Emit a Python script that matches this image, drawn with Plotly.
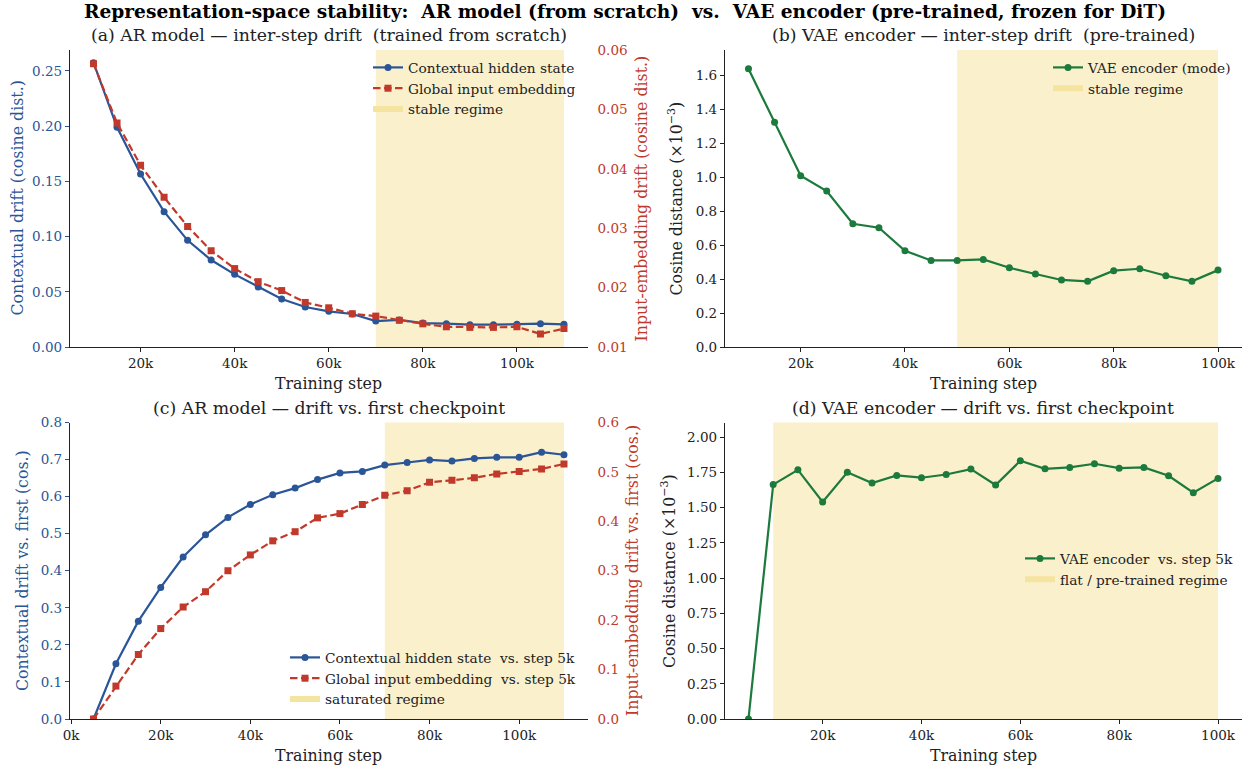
import plotly.graph_objects as go

# ---------------- data ----------------
steps_a = [10000, 15000, 20000, 25000, 30000, 35000, 40000, 45000, 50000, 55000, 60000,
           65000, 70000, 75000, 80000, 85000, 90000, 95000, 100000, 105000, 110000]
ctx_interstep = [0.2575, 0.199, 0.1567, 0.1226, 0.0966, 0.0788, 0.0658, 0.0543, 0.0435, 0.0362,
                 0.0323, 0.0299, 0.0235, 0.0245, 0.0217, 0.0211, 0.0202, 0.0202, 0.0205, 0.0211, 0.0205]
emb_interstep = [0.0577, 0.0477, 0.0406, 0.0352, 0.0303, 0.0262, 0.0232, 0.0210, 0.0195, 0.0175,
                 0.0166, 0.0156, 0.0152, 0.0145, 0.0139, 0.0134, 0.0133, 0.0133, 0.0134, 0.0122, 0.0131]

steps_b = [10000, 15000, 20000, 25000, 30000, 35000, 40000, 45000, 50000, 55000,
           60000, 65000, 70000, 75000, 80000, 85000, 90000, 95000, 100000]
vae_interstep = [1.639, 1.325, 1.009, 0.919, 0.726, 0.703, 0.567, 0.510, 0.510, 0.516,
                 0.467, 0.430, 0.395, 0.387, 0.450, 0.461, 0.420, 0.387, 0.453]

steps_c = [5000, 10000, 15000, 20000, 25000, 30000, 35000, 40000, 45000, 50000, 55000,
           60000, 65000, 70000, 75000, 80000, 85000, 90000, 95000, 100000, 105000, 110000]
ctx_vs_first = [0.0, 0.149, 0.264, 0.355, 0.437, 0.497, 0.544, 0.579, 0.605, 0.623, 0.646,
                0.664, 0.668, 0.685, 0.692, 0.699, 0.696, 0.703, 0.706, 0.706, 0.720, 0.713]
emb_vs_first = [0.0, 0.0666, 0.1305, 0.183, 0.2266, 0.2576, 0.300, 0.332, 0.3605, 0.379, 0.407,
                0.4156, 0.434, 0.4526, 0.462, 0.479, 0.483, 0.488, 0.496, 0.501, 0.506, 0.516]

steps_d = [5000, 10000, 15000, 20000, 25000, 30000, 35000, 40000, 45000, 50000,
           55000, 60000, 65000, 70000, 75000, 80000, 85000, 90000, 95000, 100000]
vae_vs_first = [0.0, 1.664, 1.769, 1.541, 1.751, 1.675, 1.729, 1.713, 1.736, 1.774,
                1.661, 1.833, 1.776, 1.786, 1.812, 1.781, 1.786, 1.727, 1.607, 1.708]

# shaded regimes (start, end) per panel
regime_a = (70000, 110000)
regime_b = (50000, 100000)
regime_c = (70000, 110000)
regime_d = (10000, 100000)

step_ticks = [0, 20000, 40000, 60000, 80000, 100000]
step_ticktext = ["0k", "20k", "40k", "60k", "80k", "100k"]

# ---------------- styling ----------------
FONT = "DejaVu Serif"
BLUE = "#2a5597"
RED = "#c0392b"
GREEN = "#1b7a3c"
SHADE = "#f7e8b0"
SHADE_KEY = "#f5e3a0"
INK = "#222222"
DASH = "7.5px,3.5px"

W, H = 1251, 769


def px_x(p):
    return p / W


def px_y(p):
    return 1 - p / H


left_dom = [px_x(70), px_x(587.5)]
right_dom = [px_x(725), px_x(1241.5)]
top_dom = [px_y(347), px_y(50)]
bot_dom = [px_y(719), px_y(422.5)]

fig = go.Figure()


def line_trace(x, y, name, color, symbol, dash, xa, ya, lg):
    return go.Scatter(x=x, y=y, name=name, mode="lines+markers",
                      line=dict(color=color, width=2.2, dash=dash),
                      marker=dict(symbol=symbol, size=7, color=color),
                      xaxis=xa, yaxis=ya, legend=lg)


def regime_key(name, xa, ya, lg):
    # legend entry for a shaded regime
    return go.Scatter(x=[None], y=[None], name=name, mode="none", fill="toself",
                      fillcolor=SHADE_KEY, xaxis=xa, yaxis=ya, legend=lg)


# (a) AR model inter-step drift
fig.add_trace(line_trace(steps_a, ctx_interstep, "Contextual hidden state", BLUE, "circle", "solid", "x", "y", "legend"))
fig.add_trace(line_trace(steps_a, emb_interstep, "Global input embedding", RED, "square", DASH, "x", "y5", "legend"))
fig.add_trace(regime_key("stable regime", "x", "y", "legend"))

# (b) VAE encoder inter-step drift
fig.add_trace(line_trace(steps_b, vae_interstep, "VAE encoder (mode)", GREEN, "circle", "solid", "x2", "y2", "legend2"))
fig.add_trace(regime_key("stable regime", "x2", "y2", "legend2"))

# (c) AR model drift vs first checkpoint
fig.add_trace(line_trace(steps_c, ctx_vs_first, "Contextual hidden state  vs. step 5k", BLUE, "circle", "solid", "x3", "y3", "legend3"))
fig.add_trace(line_trace(steps_c, emb_vs_first, "Global input embedding  vs. step 5k", RED, "square", DASH, "x3", "y6", "legend3"))
fig.add_trace(regime_key("saturated regime", "x3", "y3", "legend3"))

# (d) VAE encoder drift vs first checkpoint
fig.add_trace(line_trace(steps_d, vae_vs_first, "VAE encoder  vs. step 5k", GREEN, "circle", "solid", "x4", "y4", "legend4"))
fig.add_trace(regime_key("flat / pre-trained regime", "x4", "y4", "legend4"))

# shaded regimes
for (x0, x1), xr, yr in [
    (regime_a, "x", "y domain"),
    (regime_b, "x2", "y2 domain"),
    (regime_c, "x3", "y3 domain"),
    (regime_d, "x4", "y4 domain"),
]:
    fig.add_shape(type="rect", xref=xr, yref=yr, x0=x0, x1=x1, y0=0, y1=1,
                  fillcolor=SHADE, opacity=0.65, line=dict(width=0), layer="below")

TICK_SIZE = 13.5


def xax(domain, anchor, rng):
    return dict(domain=domain, anchor=anchor, range=rng, showgrid=False, zeroline=False,
                automargin=False,
                showline=True, linecolor=INK, linewidth=1.3, ticks="outside", ticklen=4,
                tickcolor=INK, tickvals=step_ticks, ticktext=step_ticktext,
                tickfont=dict(family=FONT, size=TICK_SIZE, color=INK))


def yax(domain, anchor, rng, dtick, fmt, color=INK, side="left", overlaying=None):
    d = dict(domain=domain, anchor=anchor, range=rng, showgrid=False, zeroline=False,
             automargin=False, tick0=0, dtick=dtick, tickformat=fmt, side=side,
             tickfont=dict(family=FONT, size=TICK_SIZE, color=color))
    if overlaying:
        # twin axis: labels only, no spine or tick marks
        d.update(overlaying=overlaying, showline=False, ticks="", ticklabelstandoff=9)
    else:
        d.update(showline=True, linecolor=INK, linewidth=1.3, ticks="outside", ticklen=4,
                 tickcolor=color)
    return d


fig.update_layout(
    width=W, height=H,
    margin=dict(l=0, r=0, t=0, b=0, autoexpand=False),
    paper_bgcolor="white", plot_bgcolor="rgba(0,0,0,0)",
    font=dict(family=FONT, size=13, color=INK),
    xaxis=xax(left_dom, "y", [5000, 115000]),
    yaxis=yax(top_dom, "x", [0, 0.269], 0.05, ".2f", color=BLUE),
    yaxis5=yax(top_dom, "x", [0.01, 0.06], 0.01, ".2f", color=RED, side="right", overlaying="y"),
    xaxis2=xax(right_dom, "y2", [5500, 104500]),
    yaxis2=yax(top_dom, "x2", [0, 1.75], 0.2, ".1f"),
    xaxis3=xax(left_dom, "y3", [-250, 115250]),
    yaxis3=yax(bot_dom, "x3", [0, 0.8], 0.1, ".1f", color=BLUE),
    yaxis6=yax(bot_dom, "x3", [0, 0.6], 0.1, ".1f", color=RED, side="right", overlaying="y3"),
    xaxis4=xax(right_dom, "y4", [250, 104750]),
    yaxis4=yax(bot_dom, "x4", [0, 2.105], 0.25, ".2f"),
)

legend_common = dict(bgcolor="rgba(0,0,0,0)", borderwidth=0, xanchor="left", yanchor="top",
                     font=dict(family=FONT, size=13.7, color=INK), itemwidth=30,
                     tracegroupgap=0)
fig.update_layout(
    legend=dict(x=px_x(368), y=px_y(52), **legend_common),
    legend2=dict(x=px_x(1048), y=px_y(52), **legend_common),
    legend3=dict(x=px_x(285), y=px_y(642), **legend_common),
    legend4=dict(x=px_x(1020), y=px_y(543), **legend_common),
)

# titles and axis labels
ann = []
ann.append(dict(text="<b>Representation-space stability:  AR model (from scratch)  vs.  VAE encoder (pre-trained, frozen for DiT)</b>",
                x=px_x(625), y=px_y(12), font=dict(family=FONT, size=18.6, color="black")))
for txt, cx, cy in [
    ("(a) AR model — inter-step drift  (trained from scratch)", 328.75, 35),
    ("(b) VAE encoder — inter-step drift  (pre-trained)", 983.25, 35),
    ("(c) AR model — drift vs. first checkpoint", 328.75, 408),
    ("(d) VAE encoder — drift vs. first checkpoint", 983.25, 408),
]:
    ann.append(dict(text=txt, x=px_x(cx), y=px_y(cy), font=dict(family=FONT, size=17.3, color=INK)))
for cx, cy in [(328.75, 383), (983.25, 383), (328.75, 755), (983.25, 755)]:
    ann.append(dict(text="Training step", x=px_x(cx), y=px_y(cy),
                    font=dict(family=FONT, size=15.8, color=INK)))
for txt, cx, cy, col in [
    ("Contextual drift (cosine dist.)", 17, 198.5, BLUE),
    ("Input-embedding drift (cosine dist.)", 641, 198.5, RED),
    ("Cosine distance (×10<sup>−3</sup>)", 676, 198.5, INK),
    ("Contextual drift vs. first (cos.)", 22, 571, BLUE),
    ("Input-embedding drift vs. first (cos.)", 632, 571, RED),
    ("Cosine distance (×10<sup>−3</sup>)", 668, 571, INK),
]:
    ann.append(dict(text=txt, x=px_x(cx), y=px_y(cy), textangle=-90,
                    font=dict(family=FONT, size=15.8, color=col)))

for a in ann:
    a.update(xref="paper", yref="paper", xanchor="center", yanchor="middle", showarrow=False)
fig.update_layout(annotations=ann)

fig.write_html("out.html")
